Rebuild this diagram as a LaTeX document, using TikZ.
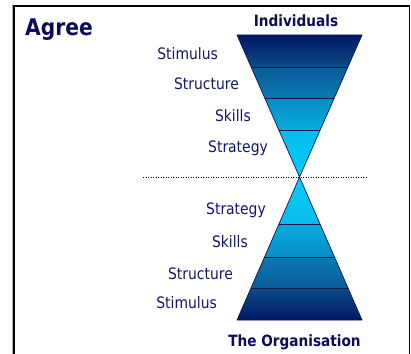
\documentclass[tikz,border=0pt]{standalone}
\usepackage{fontspec}
\setmainfont[FakeStretch=0.88]{DejaVu Sans}
\definecolor{txtnavy}{RGB}{22,22,105}
\definecolor{titlenavy}{RGB}{12,12,90}
\definecolor{edge}{RGB}{10,25,70}
\definecolor{cA}{RGB}{2,22,104}
\definecolor{cB}{RGB}{10,76,134}
\definecolor{cC}{RGB}{10,92,150}
\definecolor{cD}{RGB}{8,122,180}
\definecolor{cE}{RGB}{8,140,196}
\definecolor{cF}{RGB}{8,172,222}
\definecolor{cG}{RGB}{10,186,236}
\definecolor{cH}{RGB}{6,206,252}
\tikzset{
  lbl/.style={anchor=base east, inner sep=0pt, text=txtnavy, font=\fontsize{15.8}{15.8}\selectfont},
  ttl/.style={anchor=base, inner sep=0pt, text=titlenavy, font=\bfseries\fontsize{15.5}{15.5}\selectfont},
  divline/.style={draw=edge, line width=0.9pt},
  outline/.style={draw=edge, line width=0.7pt, line join=round}
}
\begin{document}
\begin{tikzpicture}[x=1pt,y=-1pt]
\useasboundingbox (0,0) rectangle (411,353);
\fill[white] (0,0) rectangle (411,353);
% frame
\draw[gray!60, line width=1pt] (12,4) -- (12,360);
\draw[black, line width=1.6pt] (13.8,360) -- (13.8,5.8) -- (409.5,5.8) -- (409.5,360);
% dotted line
\coordinate (dl) at (143,177);
\coordinate (dr) at (368,177);
\draw[black, line width=0.8pt, dash pattern=on 1pt off 1.5pt] (dl) -- (dr);
% top funnel bands
\shade[top color=cA, bottom color=cB] (237,35) -- (362,35) -- (347.9,67) -- (251.1,67) -- cycle;
\shade[top color=cC, bottom color=cD] (251.1,67) -- (347.9,67) -- (334.3,98) -- (264.7,98) -- cycle;
\shade[top color=cE, bottom color=cF] (264.7,98) -- (334.3,98) -- (320.2,130) -- (278.8,130) -- cycle;
\shade[top color=cG, bottom color=cH] (278.8,130) -- (320.2,130) -- (299.5,177) -- cycle;
% bottom pyramid bands
\shade[top color=cH, bottom color=cG] (299.5,177) -- (320,224) -- (279,224) -- cycle;
\shade[top color=cF, bottom color=cE] (279,224) -- (320,224) -- (334.5,257) -- (264.5,257) -- cycle;
\shade[top color=cD, bottom color=cC] (264.5,257) -- (334.5,257) -- (348,288) -- (251,288) -- cycle;
\shade[top color=cB, bottom color=cA] (251,288) -- (348,288) -- (362,320) -- (237,320) -- cycle;
% dividers
\draw[divline] (251.1,67) -- (347.9,67);
\draw[divline] (264.7,98) -- (334.3,98);
\draw[divline] (278.8,130) -- (320.2,130);
\draw[divline] (279,224) -- (320,224);
\draw[divline] (264.5,257) -- (334.5,257);
\draw[divline] (251,288) -- (348,288);
% outlines
\draw[outline] (237,35) -- (362,35) -- (299.5,177) -- cycle;
\draw[outline] (299.5,177) -- (362,320) -- (237,320) -- cycle;
% titles
\node[anchor=base west, inner sep=0pt, text=titlenavy, font=\bfseries\fontsize{23}{23}\selectfont] (agree) at (25,35) {Agree};
\node[ttl] (ind) at (296,27) {Individuals};
\node[ttl] (org) at (294.5,346) {The Organisation};
% labels top
\node[lbl] (t1) at (218,59) {Stimulus};
\node[lbl] (t2) at (239,89) {Structure};
\node[lbl] (t3) at (251,121) {Skills};
\node[lbl] (t4) at (268,152) {Strategy};
% labels bottom
\node[lbl] (b4) at (266,214) {Strategy};
\node[lbl] (b3) at (248,247) {Skills};
\node[lbl] (b2) at (233,279) {Structure};
\node[lbl] (b1) at (217,308) {Stimulus};
\end{tikzpicture}
\end{document}
